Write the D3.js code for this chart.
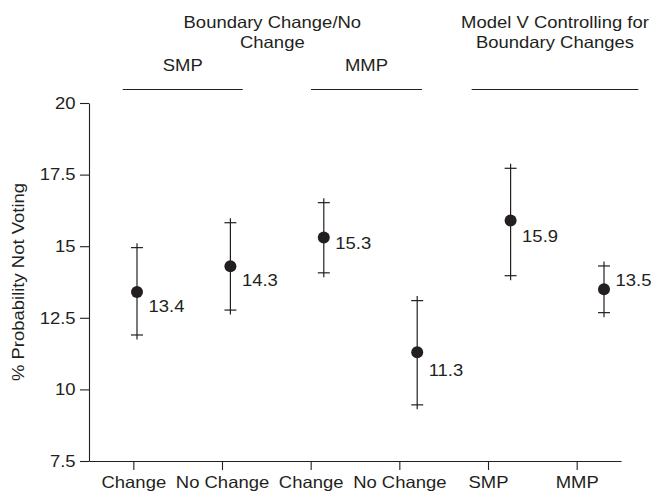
<!DOCTYPE html>
<html>
<head>
<meta charset="utf-8">
<script src="https://cdn.jsdelivr.net/npm/d3@7"></script>
<style>
  body { margin: 0; background: #fff; }
  svg text { font-family: "Liberation Sans", Arial, Helvetica, sans-serif; font-size: 16.5px; fill: #231f20; }
  .axis path, .axis line { stroke: #231f20; stroke-width: 1.1; }
</style>
</head>
<body>
<svg id="chart" width="652" height="492"></svg>
<script>
// chart values
var categories = ["Change", "No Change", "Change", "No Change", "SMP", "MMP"];
var estimates = [13.4, 14.3, 15.3, 11.3, 15.9, 13.5];
var upper = [14.95, 15.82, 16.52, 13.1, 17.72, 14.31];
var lower = [11.9, 12.77, 14.07, 9.46, 13.97, 12.68];
var yTicks = [7.5, 10, 12.5, 15, 17.5, 20];
var yTitle = "% Probability Not Voting";

// header labels
var headers = [
  {lines: ["Boundary Change/No", "Change"], from: -0.153, to: 3.051},
  {lines: ["Model V Controlling for", "Boundary Changes"], from: 3.583, to: 5.367}
];
var brackets = [
  {label: "SMP", from: -0.153, to: 1.132},
  {label: "MMP", from: 1.863, to: 3.051},
  {label: "", from: 3.583, to: 5.367}
];

// label offsets from the dot (layout only)
var labelDy = [20, 20, 11, 24, 22, -3];

var sx = 1.12; // the source font is wider than Arial
var ink = "#231f20";

var svg = d3.select("#chart");

var yScale = d3.scaleLinear().domain([7.5, 20]).range([461, 103]);

// tick positions on the axis
var xAxisScale = d3.scalePoint()
  .domain(d3.range(categories.length))
  .range([89, 621])
  .padding(0.5);

// the points in the source sit a little off their ticks
var xPoint = d3.scaleLinear().domain([0, 5]).range([137, 604]);

function place(sel, x, y) {
  sel.attr("transform", "translate(" + x + "," + y + ") scale(" + sx + ",1)");
}

// y axis
var yAxis = svg.append("g")
  .attr("class", "axis")
  .attr("transform", "translate(89,0)")
  .call(d3.axisLeft(yScale).tickValues(yTicks).tickSize(9).tickSizeOuter(0)
    .tickFormat(function(d) { return d; }));
yAxis.selectAll("text")
  .attr("x", -12)
  .attr("transform", "scale(" + sx + ",1)");
yAxis.attr("font-size", null).attr("font-family", null);

// x axis
var xAxis = svg.append("g")
  .attr("class", "axis")
  .attr("transform", "translate(0,461)")
  .call(d3.axisBottom(xAxisScale).tickSize(9).tickSizeOuter(0)
    .tickFormat(function(i) { return categories[i]; }));
xAxis.selectAll("text")
  .attr("y", 15)
  .attr("transform", "scale(" + sx + ",1)");
xAxis.attr("font-size", null).attr("font-family", null);

// y title
svg.append("text")
  .attr("text-anchor", "middle")
  .attr("transform", "translate(24,282) rotate(-90) scale(" + sx + ",1)")
  .text(yTitle);

// headers
headers.forEach(function(h) {
  var cx = (xPoint(h.from) + xPoint(h.to)) / 2;
  h.lines.forEach(function(t, k) {
    svg.append("text")
      .attr("text-anchor", "middle")
      .call(place, cx, 27.5 + k * 20.5)
      .text(t);
  });
});

brackets.forEach(function(b) {
  var x0 = xPoint(b.from), x1 = xPoint(b.to);
  svg.append("line")
    .attr("x1", x0).attr("x2", x1)
    .attr("y1", 89.5).attr("y2", 89.5)
    .attr("stroke", ink).attr("stroke-width", 1.1);
  if (b.label) {
    svg.append("text")
      .attr("text-anchor", "middle")
      .call(place, (x0 + x1) / 2, 70.5)
      .text(b.label);
  }
});

// error bars, drawn as "+" ends
var pts = svg.append("g").selectAll("g")
  .data(estimates)
  .enter().append("g");

pts.append("line")
  .attr("x1", function(d, i) { return xPoint(i); })
  .attr("x2", function(d, i) { return xPoint(i); })
  .attr("y1", function(d, i) { return yScale(upper[i]) - 4.5; })
  .attr("y2", function(d, i) { return yScale(lower[i]) + 4.5; })
  .attr("stroke", ink).attr("stroke-width", 1.2);

[upper, lower].forEach(function(arr) {
  pts.append("line")
    .attr("x1", function(d, i) { return xPoint(i) - 6; })
    .attr("x2", function(d, i) { return xPoint(i) + 6; })
    .attr("y1", function(d, i) { return yScale(arr[i]); })
    .attr("y2", function(d, i) { return yScale(arr[i]); })
    .attr("stroke", ink).attr("stroke-width", 1.2);
});

pts.append("circle")
  .attr("cx", function(d, i) { return xPoint(i); })
  .attr("cy", function(d) { return yScale(d); })
  .attr("r", 6)
  .attr("fill", ink);

pts.append("text")
  .each(function(d, i) {
    d3.select(this).call(place, xPoint(i) + 11.5, yScale(d) + labelDy[i]);
  })
  .text(function(d) { return d.toFixed(1); });
</script>
</body>
</html>
